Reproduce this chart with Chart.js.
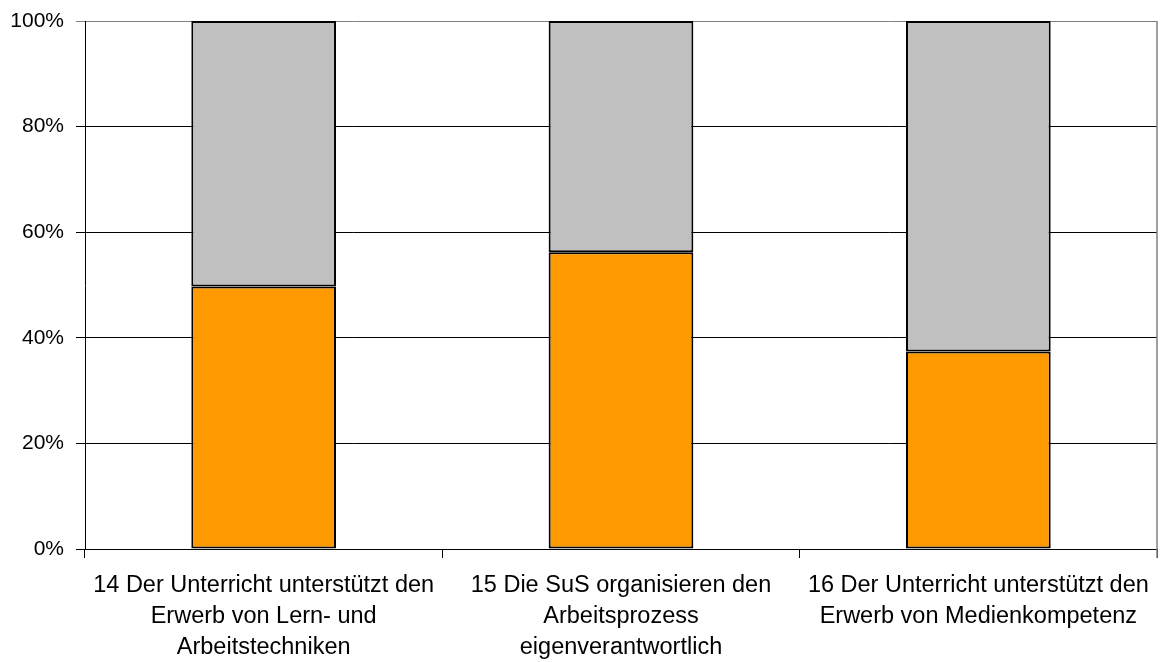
<!DOCTYPE html>
<html>
<head>
<meta charset="utf-8">
<script src="https://cdn.jsdelivr.net/npm/chart.js@4/dist/chart.umd.min.js"></script>
<style>
html,body{margin:0;padding:0;background:#fff;}
#wrap{width:1163px;height:662px;position:relative;}
</style>
</head>
<body>
<div id="wrap"><canvas id="c" width="1163" height="662"></canvas></div>
<script>
const categories = [
  ["14 Der Unterricht unterstützt den", "Erwerb von Lern- und", "Arbeitstechniken"],
  ["15 Die SuS organisieren den", "Arbeitsprozess", "eigenverantwortlich"],
  ["16 Der Unterricht unterstützt den", "Erwerb von Medienkompetenz"]
];
const seriesA = [49.7, 56.2, 37.4];
const seriesB = [50.3, 43.8, 62.6];
const yTicks = [0, 20, 40, 60, 80, 100];

const rightBorder = {
  id: 'rightBorder',
  afterDraw(chart) {
    const {ctx, chartArea} = chart;
    ctx.save();
    ctx.strokeStyle = '#808080';
    ctx.lineWidth = 1.5;
    ctx.beginPath();
    ctx.moveTo(chartArea.right, chartArea.top);
    ctx.lineTo(chartArea.right, chartArea.bottom + 9);
    ctx.stroke();
    ctx.restore();
  }
};

new Chart(document.getElementById('c'), {
  type: 'bar',
  data: {
    labels: categories,
    datasets: [
      {label: 'A', data: seriesA, backgroundColor: '#FF9900', borderColor: '#000', borderWidth: 2, borderSkipped: false},
      {label: 'B', data: seriesB, backgroundColor: '#C0C0C0', borderColor: '#000', borderWidth: 2, borderSkipped: false}
    ]
  },
  options: {
    responsive: false,
    animation: false,
    layout: {padding: {top: 21, right: 6, left: 0, bottom: 0}},
    datasets: {bar: {categoryPercentage: 1, barPercentage: 0.405}},
    plugins: {legend: {display: false}, tooltip: {enabled: false}},
    scales: {
      x: {
        stacked: true,
        grid: {offset: true, drawOnChartArea: false, tickLength: 9, color: '#000', lineWidth: 1},
        border: {color: '#000', width: 1},
        ticks: {color: '#000', font: {family: 'Liberation Sans, Arial, sans-serif', size: 23.5, lineHeight: 1.32}, maxRotation: 0, autoSkip: false, padding: 12},
        afterFit(s) { s.height = 113; }
      },
      y: {
        stacked: true,
        min: 0, max: 100,
        afterBuildTicks(s) { s.ticks = yTicks.map(v => ({value: v})); },
        grid: {color: ctx => (ctx.tick && ctx.tick.value === 100) ? '#808080' : '#000', lineWidth: 1, tickLength: 9},
        border: {color: '#000', width: 1},
        ticks: {color: '#000', font: {family: 'Liberation Sans, Arial, sans-serif', size: 21}, padding: 12, callback: v => v + '%'},
        afterFit(s) { s.width = 85; s.paddingTop = 0; s.paddingBottom = 0; }
      }
    }
  },
  plugins: [rightBorder]
});
</script>
</body>
</html>
